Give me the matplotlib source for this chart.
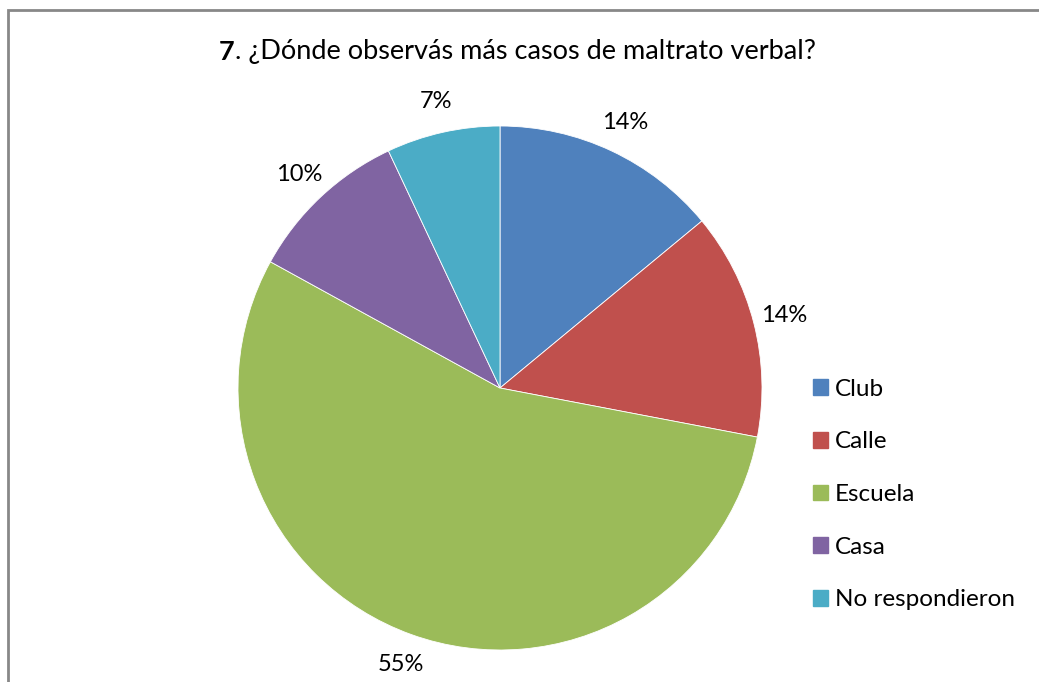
import matplotlib.pyplot as plt
from matplotlib.patches import Rectangle

# Datos
categorias = ['Club', 'Calle', 'Escuela', 'Casa', 'No respondieron']
porcentajes = [14, 14, 55, 10, 7]
colores = ['#4F81BD', '#C0504D', '#9BBB59', '#8064A2', '#4BACC6']
titulo_num = '7'
titulo_resto = '. ¿Dónde observás más casos de maltrato verbal?'

plt.rcParams['font.family'] = ['Lato', 'DejaVu Sans']

W, H = 1039, 682
fig = plt.figure(figsize=(W / 100, H / 100), dpi=100)

# Marco del gráfico
fig.patches.append(Rectangle((8 / W, -0.1), 1.2, 1.1 - 9.5 / H, transform=fig.transFigure,
                             fill=False, edgecolor='#888888', linewidth=2))

# Torta
cx, cy, r = 500, 388, 262
ax = fig.add_axes([(cx - r) / W, (H - cy - r) / H, 2 * r / W, 2 * r / H])
ax.pie(porcentajes, colors=colores, startangle=90, counterclock=False,
       autopct='%d%%', pctdistance=1.12, radius=1,
       wedgeprops=dict(edgecolor='white', linewidth=0.6),
       textprops=dict(fontsize=17, color='black'))
ax.set_xlim(-1, 1)
ax.set_ylim(-1, 1)
ax.axis('off')

# Título
t7 = fig.text(219 / W, 1 - 60 / H, titulo_num, fontsize=19.5, fontweight='bold',
              ha='left', va='baseline')
fig.canvas.draw()
ax.annotate(titulo_resto, xy=(1, 0), xycoords=t7, fontsize=19.5,
            ha='left', va='bottom', annotation_clip=False)

# Leyenda
handles = [Rectangle((0, 0), 1, 1, color=c) for c in colores]
leg = fig.legend(handles, categorias, loc='upper left',
                 bbox_to_anchor=(791 / W, 1 - 357 / H), frameon=False,
                 fontsize=17.5, handlelength=0.62, handleheight=0.62,
                 handletextpad=0.3, labelspacing=1.3)

fig.savefig('out.png', dpi=100)
